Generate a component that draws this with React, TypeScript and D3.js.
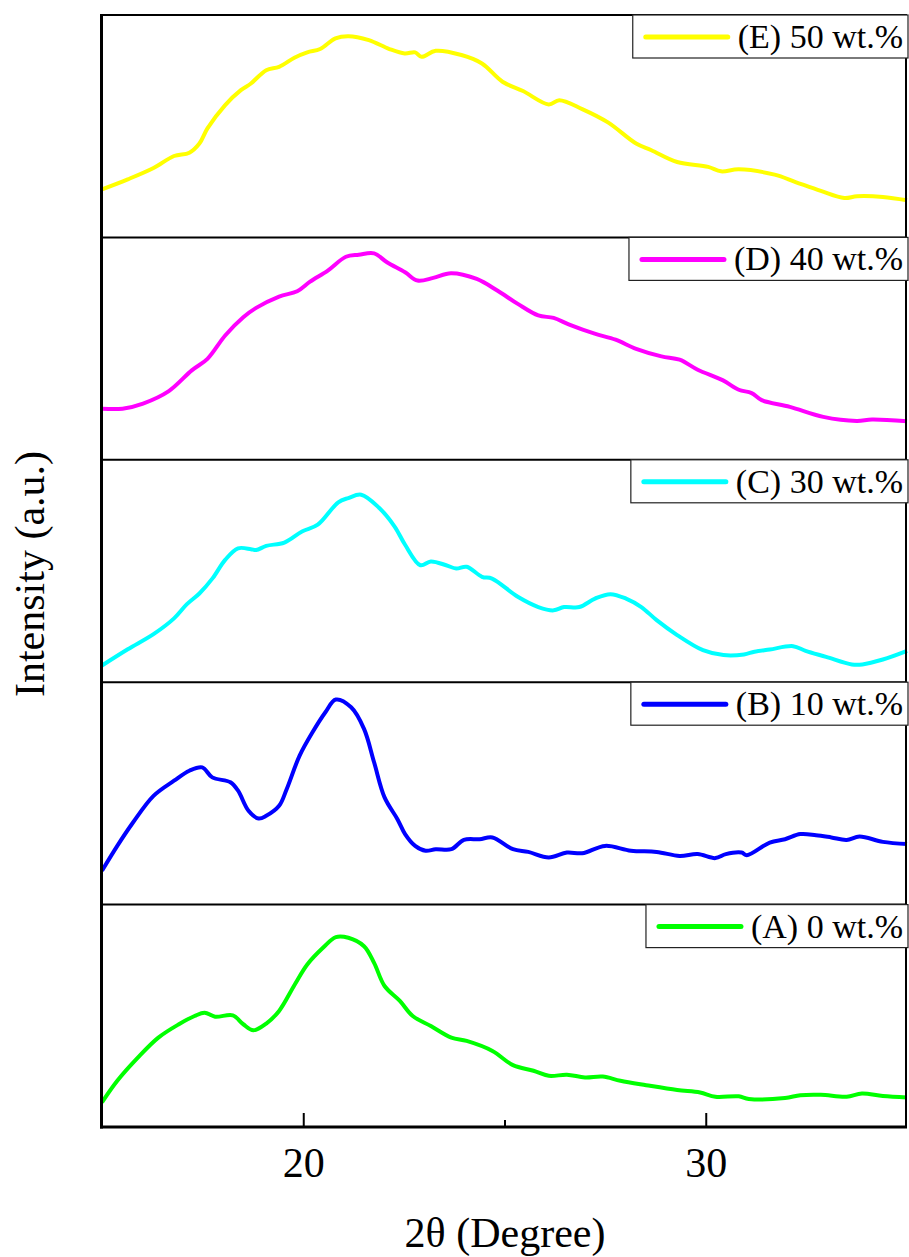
import React, { useEffect, useRef } from 'react';
import * as d3 from 'd3';

// 2θ (degree) vs. relative intensity (0 = panel bottom, 100 = panel top)
const curveE: [number, number][] = [
  [15.0, 21.6], [15.64, 26.1], [16.28, 31.2], [16.79, 36.6], [17.17, 38.1], [17.42, 42.2],
  [17.62, 49.0], [18.06, 59.5], [18.45, 66.2], [18.7, 69.2], [19.08, 75.2], [19.4, 76.7],
  [19.78, 80.8], [20.1, 83.2], [20.42, 84.7], [20.8, 89.5], [21.12, 90.5], [21.63, 88.7],
  [22.14, 84.7], [22.52, 82.7], [22.78, 83.2], [22.94, 81.2], [23.29, 83.9], [23.93, 82.0],
  [24.44, 78.2], [24.95, 70.0], [25.46, 65.8], [26.1, 59.8], [26.36, 61.7], [26.93, 57.7],
  [27.57, 51.7], [28.27, 42.2], [28.65, 39.2], [29.29, 33.9], [30.06, 31.7], [30.38, 29.7],
  [30.82, 30.6], [31.71, 28.2], [32.23, 24.9], [32.86, 20.9], [33.44, 17.7], [33.76, 18.5],
  [34.4, 18.2], [35.0, 16.7],
];

const curveD: [number, number][] = [
  [15.0, 23.0], [15.51, 23.0], [16.02, 25.3], [16.66, 30.9], [17.23, 40.2], [17.62, 45.4],
  [18.06, 55.9], [18.51, 64.1], [18.83, 68.3], [19.4, 73.4], [19.85, 75.8], [20.17, 80.1],
  [20.61, 85.1], [21.06, 91.3], [21.38, 92.2], [21.76, 92.8], [22.08, 88.8], [22.53, 84.3],
  [22.84, 80.6], [23.23, 81.8], [23.67, 83.9], [24.31, 81.3], [24.82, 76.1], [25.33, 70.1],
  [25.84, 64.9], [26.22, 63.8], [26.61, 60.8], [27.24, 56.7], [27.76, 54.0], [28.27, 49.9],
  [28.9, 46.5], [29.35, 45.0], [29.8, 40.5], [30.43, 35.7], [30.82, 31.5], [31.14, 30.0],
  [31.39, 26.8], [32.09, 23.8], [32.92, 19.3], [33.75, 17.5], [34.13, 18.1], [35.0, 17.3],
];

const curveC: [number, number][] = [
  [15.0, 7.5], [15.64, 14.8], [16.28, 21.6], [16.79, 28.7], [17.11, 35.1], [17.42, 39.9],
  [17.75, 46.8], [18.06, 55.0], [18.38, 60.2], [18.7, 59.8], [18.83, 59.4], [19.08, 61.3],
  [19.53, 62.8], [19.97, 67.8], [20.36, 70.8], [20.87, 80.9], [21.12, 82.8], [21.44, 84.3],
  [21.89, 78.3], [22.27, 70.0], [22.53, 61.8], [22.91, 52.6], [23.17, 54.3], [23.55, 52.6],
  [23.8, 51.1], [24.06, 51.9], [24.44, 47.4], [24.69, 46.6], [25.33, 38.4], [25.84, 33.8],
  [26.22, 32.3], [26.48, 33.8], [26.86, 33.8], [27.25, 37.6], [27.63, 39.6], [28.02, 37.6],
  [28.4, 33.8], [28.78, 27.9], [29.29, 21.2], [29.93, 14.4], [30.44, 12.2], [30.95, 12.5],
  [31.21, 13.7], [31.59, 14.7], [32.17, 16.2], [32.48, 14.1], [32.99, 11.4], [33.63, 8.0],
  [33.89, 8.0], [34.4, 10.2], [35.0, 14.1],
];

const curveB: [number, number][] = [
  [15.0, 15.2], [15.38, 26.4], [15.77, 36.9], [16.28, 48.9], [16.79, 55.7], [17.17, 60.2],
  [17.49, 61.7], [17.74, 57.2], [18.19, 55.0], [18.38, 51.2], [18.64, 42.2], [18.89, 38.7],
  [19.08, 39.9], [19.4, 44.4], [19.59, 52.0], [19.91, 67.0], [20.23, 77.5], [20.55, 86.5],
  [20.81, 92.2], [21.19, 88.7], [21.51, 79.0], [21.76, 64.0], [22.02, 48.2], [22.34, 38.4],
  [22.53, 31.7], [22.78, 26.4], [23.04, 24.2], [23.29, 24.9], [23.68, 24.9], [23.99, 29.1],
  [24.38, 29.4], [24.7, 30.2], [25.21, 24.9], [25.59, 23.7], [26.1, 21.2], [26.55, 23.4],
  [26.93, 23.1], [27.5, 26.4], [28.14, 24.2], [28.78, 23.7], [29.35, 21.9], [29.8, 22.7],
  [30.24, 20.9], [30.5, 22.7], [30.89, 23.4], [31.02, 22.2], [31.59, 27.9], [31.97, 29.4],
  [32.35, 31.7], [32.74, 31.2], [33.12, 30.2], [33.5, 29.1], [33.82, 30.6], [34.4, 28.2],
  [35.0, 27.2],
];

const curveA: [number, number][] = [
  [15.0, 11.1], [15.38, 20.8], [15.89, 31.2], [16.4, 40.2], [16.91, 46.2], [17.3, 49.9],
  [17.55, 51.4], [17.81, 49.6], [18.25, 50.2], [18.51, 46.2], [18.76, 43.5], [19.08, 46.5],
  [19.4, 52.2], [19.79, 64.1], [20.1, 73.1], [20.49, 80.6], [20.81, 85.4], [21.12, 85.1],
  [21.51, 81.3], [21.76, 73.8], [22.02, 63.4], [22.4, 56.7], [22.72, 49.9], [23.17, 45.4],
  [23.68, 40.2], [24.06, 38.7], [24.7, 34.2], [25.21, 27.8], [25.72, 25.3], [26.1, 23.0],
  [26.55, 23.5], [27.0, 22.3], [27.44, 22.7], [27.88, 20.8], [28.52, 18.8], [29.29, 16.6],
  [29.86, 15.5], [30.24, 13.6], [30.82, 13.8], [31.07, 12.6], [31.97, 13.0], [32.35, 14.3],
  [32.86, 14.5], [33.5, 13.6], [33.88, 15.1], [34.4, 13.9], [35.0, 13.3],
];

const seriesLabels = ['(E) 50 wt.%', '(D) 40 wt.%', '(C) 30 wt.%', '(B) 10 wt.%', '(A) 0 wt.%'];
const seriesData = [curveE, curveD, curveC, curveB, curveA];
const seriesColors = ['#ffff00', '#ff00ff', '#00ffff', '#0000ff', '#00ff00'];

const xMajorTicks = [20, 30];
const xMinorTicks = [25];

const FONT = '"Liberation Serif", "Times New Roman", serif';

export default function App() {
  const svgRef = useRef<SVGSVGElement>(null);

  useEffect(() => {
    if (!svgRef.current) return;
    const svg = d3.select(svgRef.current);
    svg.selectAll('*').remove();

    const top = 15;
    const bottom = 1127;
    const left = 101.5;
    const right = 906;

    const x = d3.scaleLinear().domain([15, 35]).range([102, 907]);
    const band = d3.scaleBand<string>().domain(seriesLabels).range([top, bottom]);

    // curves
    seriesLabels.forEach((label, i) => {
      const y0 = band(label)!;
      const y = d3.scaleLinear().domain([0, 100]).range([y0 + band.bandwidth(), y0]);
      const line = d3.line<[number, number]>()
        .x(d => x(d[0]))
        .y(d => y(d[1]))
        .curve(d3.curveCatmullRom.alpha(0.5));
      svg.append('path')
        .datum(seriesData[i])
        .attr('d', line)
        .attr('fill', 'none')
        .attr('stroke', seriesColors[i])
        .attr('stroke-width', 4)
        .attr('stroke-linejoin', 'round');
    });

    // frame
    const frame = svg.append('g').attr('stroke', '#000');
    frame.append('line').attr('x1', left).attr('x2', left).attr('y1', top - 1).attr('y2', bottom + 1.5).attr('stroke-width', 3);
    frame.append('line').attr('x1', left).attr('x2', right + 1).attr('y1', top).attr('y2', top).attr('stroke-width', 2);
    frame.append('line').attr('x1', right).attr('x2', right).attr('y1', top).attr('y2', bottom).attr('stroke-width', 2);
    seriesLabels.slice(1).forEach(label => {
      const yy = band(label)!;
      frame.append('line').attr('x1', left).attr('x2', right + 1).attr('y1', yy).attr('y2', yy).attr('stroke-width', 2);
    });
    frame.append('line').attr('x1', left - 1.5).attr('x2', right + 1).attr('y1', bottom).attr('y2', bottom).attr('stroke-width', 3);

    // bottom axis ticks (pointing inward)
    const majorAxis = d3.axisBottom(x).tickValues(xMajorTicks).tickSizeInner(-14).tickSizeOuter(0).tickPadding(20).tickFormat(d3.format('d'));
    const gMajor = svg.append('g').attr('transform', `translate(0,${bottom})`).call(majorAxis);
    gMajor.select('.domain').remove();
    gMajor.selectAll('line').attr('stroke', '#000').attr('stroke-width', 2);
    gMajor.selectAll('text')
      .attr('fill', '#000')
      .attr('font-family', FONT)
      .attr('font-size', 42);
    gMajor.attr('font-family', null).attr('font-size', null);

    const minorAxis = d3.axisBottom(x).tickValues(xMinorTicks).tickSizeInner(-7).tickSizeOuter(0).tickFormat(() => '');
    const gMinor = svg.append('g').attr('transform', `translate(0,${bottom})`).call(minorAxis);
    gMinor.select('.domain').remove();
    gMinor.selectAll('line').attr('stroke', '#000').attr('stroke-width', 2);

    // axis titles
    svg.append('text')
      .attr('x', 505).attr('y', 1247)
      .attr('text-anchor', 'middle')
      .attr('font-family', FONT).attr('font-size', 42)
      .text('2θ (Degree)');
    svg.append('text')
      .attr('transform', 'translate(44,574) rotate(-90)')
      .attr('text-anchor', 'middle')
      .attr('font-family', FONT).attr('font-size', 42)
      .text('Intensity (a.u.)');

    // legends
    seriesLabels.forEach((label, i) => {
      const y0 = band(label)!;
      const g = svg.append('g');
      const rect = g.append('rect');
      const text = g.append('text')
        .attr('x', 903).attr('y', y0 + 33)
        .attr('text-anchor', 'end')
        .attr('font-family', FONT).attr('font-size', 34)
        .attr('fill', '#000')
        .text(label);
      const w = (text.node() as SVGTextElement).getComputedTextLength();
      const start = 903 - w;
      rect.attr('x', start - 105).attr('y', y0)
        .attr('width', 908 - (start - 105)).attr('height', 43)
        .attr('fill', '#fff').attr('stroke', '#222').attr('stroke-width', 1.2);
      g.append('line')
        .attr('x1', start - 92).attr('x2', start - 10)
        .attr('y1', y0 + 22).attr('y2', y0 + 22)
        .attr('stroke', seriesColors[i]).attr('stroke-width', 5)
        .attr('stroke-linecap', 'round');
    });
  }, []);

  return (
    <svg
      ref={svgRef}
      width={909}
      height={1257}
      style={{ position: 'absolute', left: 0, top: 0, background: '#fff' }}
    />
  );
}
